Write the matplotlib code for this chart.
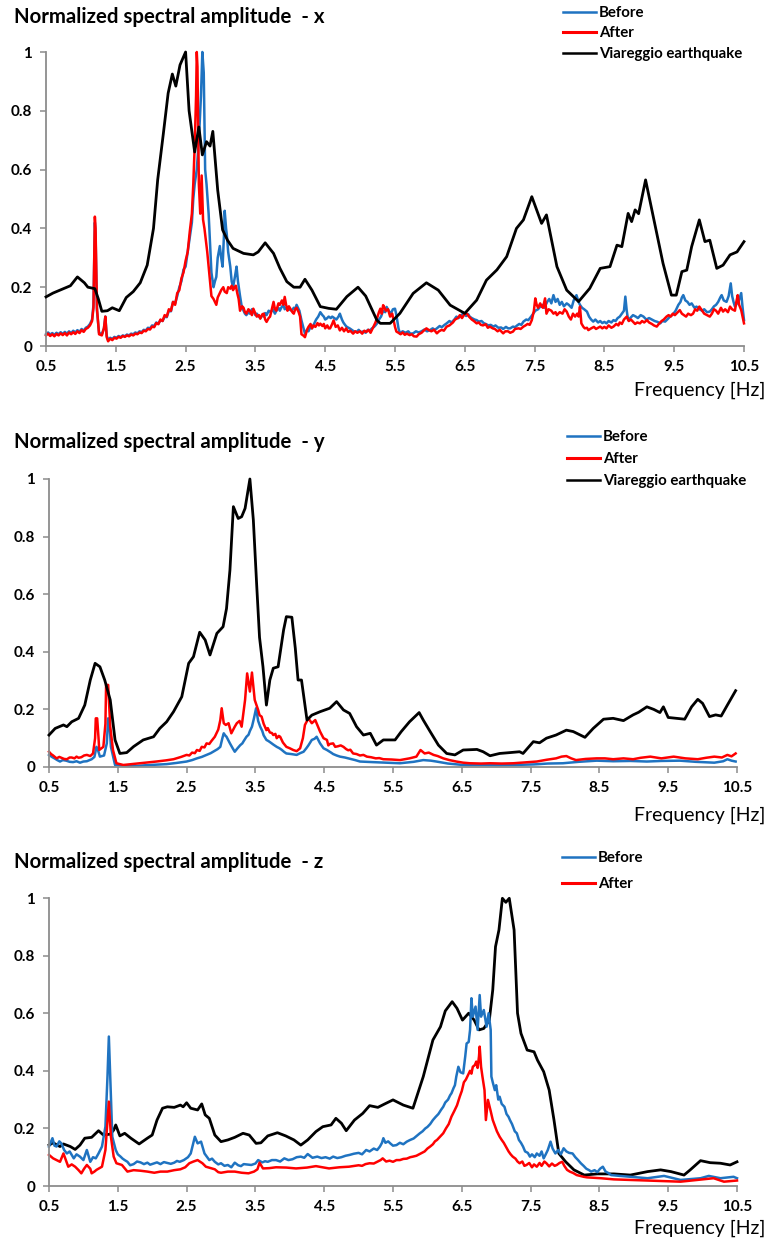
import numpy as np
import matplotlib
matplotlib.use("Agg")
import matplotlib.pyplot as plt
from matplotlib.lines import Line2D

plt.rcParams['font.family'] = ['Lato', 'DejaVu Sans']

# ---- data (frequency [Hz], normalized amplitude) ----
x_ticks = [0.5, 1.5, 2.5, 3.5, 4.5, 5.5, 6.5, 7.5, 8.5, 9.5, 10.5]
y_ticks = [0, 0.2, 0.4, 0.6, 0.8, 1]
y_tick_labels = ['0', '0.2', '0.4', '0.6', '0.8', '1']

# direction x
quake_x = [(0.5, 0.167), (0.6, 0.18), (0.7, 0.19), (0.8, 0.2), (0.85, 0.205), (0.95, 0.235),
           (1.05, 0.215), (1.1, 0.2), (1.2, 0.195), (1.25, 0.16), (1.3, 0.118), (1.38, 0.12),
           (1.45, 0.13), (1.55, 0.12), (1.65, 0.165), (1.75, 0.185), (1.85, 0.215), (1.95, 0.275),
           (2.04, 0.40), (2.1, 0.565), (2.18, 0.72), (2.25, 0.86), (2.31, 0.925), (2.36, 0.884),
           (2.42, 0.956), (2.5, 1.0), (2.55, 0.80), (2.63, 0.66), (2.69, 0.745), (2.74, 0.65),
           (2.8, 0.695), (2.85, 0.68), (2.89, 0.73), (2.96, 0.53), (3.03, 0.395), (3.1, 0.36),
           (3.18, 0.332), (3.33, 0.315), (3.47, 0.31), (3.54, 0.32), (3.64, 0.351), (3.76, 0.315),
           (3.85, 0.265), (3.95, 0.219), (4.05, 0.2), (4.14, 0.2), (4.21, 0.227), (4.31, 0.19),
           (4.43, 0.134), (4.55, 0.128), (4.66, 0.125), (4.81, 0.168), (4.97, 0.2), (5.08, 0.17),
           (5.24, 0.088), (5.29, 0.077), (5.43, 0.077), (5.57, 0.111), (5.76, 0.179), (5.95, 0.215),
           (6.12, 0.19), (6.29, 0.139), (6.5, 0.111), (6.67, 0.156), (6.81, 0.224), (6.96, 0.259),
           (7.1, 0.304), (7.24, 0.40), (7.34, 0.429), (7.46, 0.508), (7.6, 0.417), (7.67, 0.446),
           (7.82, 0.27), (7.96, 0.19), (8.13, 0.151), (8.29, 0.196), (8.44, 0.264), (8.58, 0.27),
           (8.68, 0.343), (8.75, 0.338), (8.84, 0.451), (8.89, 0.423), (8.94, 0.463), (8.99, 0.45),
           (9.09, 0.565), (9.2, 0.44), (9.34, 0.281), (9.46, 0.173), (9.53, 0.173), (9.61, 0.253),
           (9.68, 0.258), (9.75, 0.338), (9.86, 0.429), (9.94, 0.355), (10.01, 0.36), (10.11, 0.264),
           (10.2, 0.275), (10.3, 0.31), (10.4, 0.32), (10.5, 0.355)]

before_x = [(0.5, .04), (.53, .046), (.56, .039), (.59, .044), (.62, .038), (.65, .045), (.68, .04),
            (.71, .047), (.74, .041), (.77, .048), (.8, .042), (.83, .05), (.86, .044), (.89, .052),
            (.92, .046), (.95, .054), (.98, .048), (1.01, .058), (1.04, .052), (1.07, .062),
            (1.1, .066), (1.13, .075), (1.16, .09), (1.18, .14), (1.2, .42), (1.21, .38), (1.23, .12),
            (1.26, .045), (1.3, .04), (1.33, .06), (1.35, .10), (1.37, .035), (1.39, .02), (1.42, .028),
            (1.45, .024), (1.48, .031), (1.51, .028), (1.54, .034), (1.57, .03), (1.6, .036),
            (1.63, .033), (1.66, .039), (1.69, .036), (1.72, .042), (1.75, .04), (1.78, .046),
            (1.81, .043), (1.84, .05), (1.87, .047), (1.9, .055), (1.93, .053), (1.96, .062),
            (1.99, .06), (2.02, .07), (2.05, .068), (2.08, .08), (2.11, .076), (2.14, .088),
            (2.17, .085), (2.2, .1), (2.23, .098), (2.26, .12), (2.29, .118), (2.32, .15), (2.35, .145),
            (2.38, .17), (2.41, .2), (2.44, .22), (2.47, .26), (2.5, .27), (2.53, .32), (2.56, .37),
            (2.59, .42), (2.61, .5), (2.63, .55), (2.66, .6), (2.69, .7), (2.72, .85), (2.74, 1.0),
            (2.76, .93), (2.78, .6), (2.8, .55), (2.83, .45), (2.85, .35), (2.87, .25), (2.9, .2),
            (2.92, .22), (2.94, .235), (2.96, .3), (2.99, .34), (3.01, .3), (3.03, .27), (3.05, .38),
            (3.06, .46), (3.08, .4), (3.09, .38), (3.11, .32), (3.14, .27), (3.16, .22), (3.18, .2),
            (3.21, .24), (3.23, .27), (3.25, .22), (3.28, .17), (3.3, .14), (3.33, .12), (3.35, .11),
            (3.37, .105), (3.4, .115), (3.42, .11), (3.45, .125), (3.47, .12), (3.5, .105), (3.52, .11),
            (3.55, .1), (3.57, .095), (3.6, .105), (3.62, .1), (3.64, .112), (3.66, .105), (3.69, .12),
            (3.72, .115), (3.75, .125), (3.78, .11), (3.8, .12), (3.83, .13), (3.85, .12), (3.87, .13),
            (3.9, .14), (3.92, .125), (3.95, .13), (3.98, .125), (4.02, .12), (4.05, .13), (4.07, .125),
            (4.09, .14), (4.11, .13), (4.13, .12), (4.16, .087), (4.19, .06), (4.21, .042), (4.24, .055),
            (4.26, .05), (4.29, .065), (4.31, .06), (4.34, .075), (4.37, .09), (4.4, .1), (4.43, .115),
            (4.46, .105), (4.48, .1), (4.5, .09), (4.52, .093), (4.55, .1), (4.58, .095), (4.6, .1),
            (4.63, .095), (4.66, .09), (4.69, .1), (4.71, .11), (4.74, .09), (4.76, .08), (4.79, .07),
            (4.81, .065), (4.85, .06), (4.88, .055), (4.91, .05), (4.95, .048), (4.98, .055),
            (5.01, .047), (5.05, .05), (5.08, .045), (5.11, .055), (5.14, .053), (5.17, .06), (5.2, .065),
            (5.22, .07), (5.24, .076), (5.27, .09), (5.3, .1), (5.33, .12), (5.36, .115), (5.38, .133),
            (5.41, .12), (5.44, .11), (5.47, .125), (5.5, .127), (5.52, .105), (5.53, .09), (5.55, .06),
            (5.57, .043), (5.61, .05), (5.65, .045), (5.69, .05), (5.72, .042), (5.76, .043), (5.8, .05),
            (5.84, .046), (5.88, .05), (5.92, .056), (5.96, .05), (6.0, .054), (6.04, .06), (6.07, .055),
            (6.1, .06), (6.14, .068), (6.17, .064), (6.21, .072), (6.24, .077), (6.28, .085), (6.31, .08),
            (6.35, .09), (6.38, .1), (6.41, .095), (6.45, .105), (6.48, .11), (6.52, .102), (6.55, .108),
            (6.57, .1), (6.6, .095), (6.64, .09), (6.67, .088), (6.7, .083), (6.74, .085), (6.77, .078),
            (6.8, .075), (6.84, .07), (6.87, .072), (6.91, .066), (6.94, .07), (6.98, .062), (7.02, .063),
            (7.05, .058), (7.09, .065), (7.12, .06), (7.15, .06), (7.19, .066), (7.22, .064), (7.25, .07),
            (7.28, .075), (7.31, .072), (7.34, .083), (7.38, .09), (7.41, .088), (7.45, .1), (7.48, .11),
            (7.51, .12), (7.55, .125), (7.58, .134), (7.61, .14), (7.64, .13), (7.68, .15), (7.71, .16),
            (7.74, .145), (7.77, .173), (7.8, .15), (7.83, .16), (7.86, .14), (7.89, .15), (7.92, .135),
            (7.96, .145), (7.99, .14), (8.03, .13), (8.06, .155), (8.1, .173), (8.13, .15), (8.15, .14),
            (8.18, .13), (8.21, .125), (8.25, .117), (8.28, .1), (8.31, .09), (8.34, .083), (8.37, .09),
            (8.41, .08), (8.44, .085), (8.47, .078), (8.5, .082), (8.53, .077), (8.56, .085), (8.6, .08),
            (8.63, .088), (8.66, .085), (8.69, .095), (8.72, .1), (8.75, .11), (8.78, .12), (8.8, .168),
            (8.82, .12), (8.84, .088), (8.87, .095), (8.91, .105), (8.95, .1), (8.98, .095), (9.02, .105),
            (9.06, .1), (9.1, .09), (9.14, .095), (9.18, .09), (9.22, .085), (9.26, .082), (9.3, .077),
            (9.33, .085), (9.37, .083), (9.4, .09), (9.44, .1), (9.47, .105), (9.49, .11), (9.52, .12),
            (9.56, .14), (9.59, .15), (9.61, .165), (9.63, .173), (9.66, .155), (9.69, .15), (9.72, .14),
            (9.75, .145), (9.79, .13), (9.82, .134), (9.86, .125), (9.9, .12), (9.93, .125), (9.97, .115),
            (10.01, .117), (10.04, .125), (10.07, .135), (10.1, .14), (10.13, .15), (10.16, .165),
            (10.18, .173), (10.21, .155), (10.25, .15), (10.28, .17), (10.31, .213), (10.33, .17),
            (10.35, .15), (10.37, .134), (10.4, .145), (10.42, .15), (10.44, .165), (10.46, .18),
            (10.48, .13), (10.5, .088)]

after_x = [(0.5, .036), (.53, .042), (.56, .034), (.59, .04), (.62, .033), (.65, .041), (.68, .036),
           (.71, .043), (.74, .037), (.77, .044), (.8, .036), (.83, .046), (.86, .04), (.89, .047),
           (.92, .041), (.95, .05), (.98, .044), (1.01, .054), (1.04, .048), (1.07, .058), (1.1, .062),
           (1.13, .07), (1.16, .085), (1.18, .13), (1.2, .44), (1.21, .40), (1.23, .13), (1.26, .04),
           (1.3, .036), (1.33, .06), (1.35, .10), (1.37, .03), (1.39, .016), (1.42, .025), (1.45, .02),
           (1.48, .028), (1.51, .025), (1.54, .031), (1.57, .028), (1.6, .034), (1.63, .031),
           (1.66, .036), (1.69, .033), (1.72, .039), (1.75, .036), (1.78, .042), (1.81, .04),
           (1.84, .046), (1.87, .044), (1.9, .052), (1.93, .05), (1.96, .058), (1.99, .056),
           (2.02, .066), (2.05, .064), (2.08, .078), (2.11, .074), (2.14, .09), (2.17, .085),
           (2.2, .105), (2.23, .1), (2.26, .125), (2.29, .12), (2.32, .15), (2.35, .14), (2.38, .18),
           (2.41, .19), (2.44, .23), (2.47, .25), (2.5, .29), (2.53, .32), (2.56, .39), (2.59, .45),
           (2.61, .55), (2.63, .68), (2.65, .85), (2.66, 1.0), (2.67, .95), (2.69, .55), (2.71, .45),
           (2.73, .58), (2.75, .43), (2.77, .4), (2.79, .36), (2.81, .32), (2.83, .27), (2.85, .22),
           (2.87, .17), (2.9, .16), (2.92, .15), (2.94, .14), (2.96, .165), (2.99, .18), (3.01, .19),
           (3.04, .2), (3.06, .185), (3.09, .18), (3.11, .2), (3.14, .195), (3.16, .205), (3.18, .19),
           (3.2, .2), (3.22, .205), (3.24, .18), (3.26, .16), (3.28, .12), (3.31, .135), (3.33, .13),
           (3.35, .115), (3.37, .11), (3.4, .125), (3.42, .12), (3.45, .105), (3.47, .127), (3.5, .11),
           (3.52, .1), (3.55, .105), (3.57, .093), (3.6, .108), (3.62, .11), (3.64, .09), (3.66, .082),
           (3.69, .095), (3.71, .1), (3.74, .13), (3.76, .15), (3.78, .125), (3.8, .12), (3.83, .145),
           (3.85, .14), (3.88, .155), (3.9, .14), (3.92, .167), (3.94, .14), (3.96, .12), (3.98, .135),
           (4.0, .127), (4.03, .115), (4.05, .11), (4.07, .125), (4.09, .13), (4.12, .115), (4.14, .1),
           (4.16, .04), (4.19, .035), (4.21, .03), (4.24, .055), (4.26, .065), (4.29, .075), (4.31, .06),
           (4.33, .07), (4.36, .065), (4.39, .078), (4.41, .07), (4.43, .076), (4.46, .068), (4.48, .075),
           (4.5, .06), (4.53, .07), (4.55, .06), (4.57, .06), (4.6, .075), (4.62, .087), (4.65, .065),
           (4.68, .07), (4.71, .053), (4.74, .062), (4.77, .05), (4.8, .06), (4.83, .048), (4.86, .052),
           (4.9, .042), (4.93, .05), (4.96, .045), (5.0, .05), (5.03, .042), (5.06, .052), (5.09, .048),
           (5.12, .055), (5.15, .045), (5.19, .065), (5.22, .08), (5.25, .1), (5.27, .115), (5.29, .127),
           (5.31, .11), (5.33, .139), (5.35, .13), (5.37, .12), (5.4, .125), (5.43, .1), (5.46, .11),
           (5.48, .087), (5.5, .065), (5.52, .049), (5.55, .045), (5.58, .04), (5.61, .046), (5.64, .038),
           (5.67, .042), (5.71, .037), (5.74, .04), (5.77, .033), (5.81, .032), (5.84, .04), (5.88, .045),
           (5.91, .052), (5.95, .06), (5.98, .055), (6.02, .05), (6.06, .055), (6.1, .043), (6.13, .05),
           (6.17, .055), (6.2, .052), (6.24, .066), (6.28, .07), (6.33, .08), (6.36, .09), (6.4, .095),
           (6.43, .105), (6.46, .095), (6.5, .11), (6.53, .11), (6.56, .1), (6.6, .09), (6.63, .085),
           (6.67, .077), (6.7, .08), (6.73, .072), (6.76, .07), (6.8, .074), (6.83, .062), (6.86, .066),
           (6.9, .06), (6.93, .058), (6.97, .05), (7.0, .055), (7.05, .043), (7.08, .05), (7.12, .05),
           (7.15, .045), (7.19, .049), (7.22, .058), (7.27, .06), (7.3, .058), (7.34, .066), (7.37, .07),
           (7.4, .075), (7.43, .072), (7.46, .088), (7.49, .12), (7.51, .162), (7.53, .14), (7.55, .13),
           (7.58, .145), (7.6, .135), (7.62, .13), (7.65, .162), (7.67, .11), (7.7, .125), (7.74, .12),
           (7.77, .11), (7.8, .115), (7.82, .105), (7.86, .115), (7.9, .11), (7.93, .125), (7.96, .117),
           (7.99, .1), (8.02, .09), (8.05, .11), (8.08, .1), (8.11, .11), (8.13, .1), (8.15, .134),
           (8.17, .077), (8.2, .065), (8.22, .06), (8.25, .062), (8.27, .054), (8.31, .06), (8.35, .065),
           (8.38, .058), (8.41, .062), (8.44, .066), (8.47, .06), (8.5, .065), (8.53, .06), (8.56, .07),
           (8.6, .062), (8.63, .066), (8.67, .075), (8.7, .07), (8.72, .08), (8.75, .075), (8.78, .09),
           (8.82, .10), (8.85, .085), (8.88, .09), (8.9, .085), (8.94, .075), (8.97, .08), (9.01, .077),
           (9.04, .085), (9.07, .08), (9.11, .088), (9.14, .08), (9.18, .075), (9.21, .07), (9.25, .066),
           (9.28, .075), (9.32, .085), (9.35, .09), (9.39, .1), (9.42, .105), (9.45, .1), (9.48, .11),
           (9.51, .105), (9.55, .115), (9.58, .122), (9.61, .11), (9.64, .105), (9.67, .1), (9.7, .11),
           (9.74, .105), (9.77, .11), (9.8, .125), (9.83, .12), (9.86, .134), (9.9, .12), (9.93, .11),
           (9.97, .105), (10.01, .1), (10.04, .11), (10.07, .125), (10.1, .12), (10.13, .11),
           (10.17, .13), (10.2, .117), (10.23, .125), (10.27, .115), (10.3, .134), (10.33, .125),
           (10.37, .12), (10.39, .15), (10.41, .173), (10.43, .14), (10.46, .122), (10.48, .1),
           (10.5, .077)]

# direction y
quake_y = [(0.5, 0.111), (0.59, 0.134), (0.71, 0.146), (0.76, 0.14), (0.83, 0.157), (0.93, 0.169),
           (1.02, 0.215), (1.1, 0.302), (1.17, 0.36), (1.24, 0.348), (1.31, 0.302), (1.39, 0.233),
           (1.46, 0.094), (1.53, 0.047), (1.63, 0.05), (1.73, 0.071), (1.87, 0.094), (2.02, 0.105),
           (2.11, 0.134), (2.21, 0.157), (2.31, 0.192), (2.43, 0.244), (2.53, 0.36), (2.6, 0.383),
           (2.69, 0.468), (2.77, 0.441), (2.84, 0.389), (2.94, 0.464), (3.03, 0.487), (3.08, 0.55),
           (3.13, 0.684), (3.18, 0.904), (3.25, 0.863), (3.3, 0.869), (3.35, 0.898), (3.42, 1.0),
           (3.47, 0.858), (3.52, 0.626), (3.56, 0.45), (3.61, 0.348), (3.66, 0.215), (3.71, 0.302),
           (3.76, 0.343), (3.83, 0.348), (3.91, 0.476), (3.95, 0.522), (4.03, 0.52), (4.08, 0.412),
           (4.12, 0.302), (4.17, 0.302), (4.25, 0.163), (4.32, 0.18), (4.44, 0.192), (4.58, 0.204),
           (4.68, 0.227), (4.78, 0.198), (4.87, 0.186), (4.97, 0.14), (5.07, 0.111), (5.17, 0.117),
           (5.26, 0.076), (5.36, 0.094), (5.46, 0.094), (5.53, 0.094), (5.62, 0.123), (5.74, 0.157),
           (5.88, 0.189), (5.94, 0.163), (6.04, 0.123), (6.16, 0.076), (6.28, 0.047), (6.4, 0.042),
           (6.52, 0.059), (6.72, 0.061), (6.81, 0.053), (6.91, 0.039), (7.05, 0.047), (7.2, 0.05),
           (7.34, 0.053), (7.39, 0.047), (7.54, 0.088), (7.63, 0.084), (7.73, 0.1), (7.87, 0.111),
           (8.02, 0.128), (8.12, 0.123), (8.29, 0.103), (8.41, 0.134), (8.56, 0.166), (8.7, 0.169),
           (8.85, 0.161), (8.99, 0.181), (9.07, 0.19), (9.19, 0.209), (9.29, 0.2), (9.38, 0.189),
           (9.43, 0.209), (9.5, 0.172), (9.62, 0.169), (9.74, 0.166), (9.84, 0.209), (9.93, 0.235),
           (10.0, 0.221), (10.1, 0.175), (10.19, 0.181), (10.27, 0.177), (10.36, 0.215),
           (10.48, 0.265)]

before_y = [(0.5, 0.042), (0.55, 0.034), (0.58, 0.03), (0.62, 0.024), (0.66, 0.019), (0.7, 0.024),
            (0.75, 0.022), (0.8, 0.018), (0.85, 0.017), (0.9, 0.02), (0.95, 0.015), (1.0, 0.019),
            (1.05, 0.02), (1.09, 0.024), (1.12, 0.027), (1.16, 0.035), (1.19, 0.07), (1.21, 0.06),
            (1.24, 0.036), (1.3, 0.04), (1.34, 0.082), (1.36, 0.169), (1.38, 0.15), (1.4, 0.07),
            (1.46, 0.007), (1.6, 0.004), (1.73, 0.003), (1.9, 0.006), (2.05, 0.008), (2.21, 0.01),
            (2.35, 0.014), (2.5, 0.019), (2.58, 0.024), (2.65, 0.03), (2.72, 0.035), (2.79, 0.042),
            (2.85, 0.048), (2.9, 0.055), (2.95, 0.062), (2.99, 0.07), (3.02, 0.1), (3.04, 0.117),
            (3.06, 0.11), (3.08, 0.105), (3.13, 0.082), (3.17, 0.065), (3.2, 0.053), (3.24, 0.065),
            (3.28, 0.076), (3.31, 0.082), (3.33, 0.09), (3.37, 0.105), (3.4, 0.112), (3.42, 0.125),
            (3.45, 0.14), (3.48, 0.17), (3.51, 0.204), (3.54, 0.16), (3.57, 0.14), (3.6, 0.125),
            (3.62, 0.11), (3.66, 0.094), (3.69, 0.09), (3.72, 0.085), (3.76, 0.078), (3.81, 0.07),
            (3.85, 0.065), (3.88, 0.06), (3.92, 0.052), (3.95, 0.047), (4.02, 0.045), (4.1, 0.042),
            (4.15, 0.048), (4.2, 0.053), (4.24, 0.065), (4.27, 0.075), (4.32, 0.094), (4.36, 0.098),
            (4.39, 0.105), (4.44, 0.082), (4.49, 0.065), (4.54, 0.059), (4.6, 0.05), (4.63, 0.045),
            (4.68, 0.04), (4.73, 0.036), (4.8, 0.033), (4.85, 0.03), (4.95, 0.024), (5.02, 0.019),
            (5.2, 0.017), (5.4, 0.015), (5.6, 0.013), (5.8, 0.018), (5.94, 0.024), (6.05, 0.022),
            (6.13, 0.019), (6.3, 0.012), (6.52, 0.007), (6.8, 0.007), (7.05, 0.006), (7.25, 0.007),
            (7.55, 0.009), (7.75, 0.012), (7.97, 0.013), (8.2, 0.018), (8.46, 0.022), (8.7, 0.02),
            (8.95, 0.021), (9.19, 0.019), (9.4, 0.021), (9.67, 0.022), (9.9, 0.018), (10.17, 0.015),
            (10.3, 0.02), (10.36, 0.027), (10.42, 0.022), (10.48, 0.019)]

after_y = [(0.5, 0.053), (0.53, 0.045), (0.56, 0.04), (0.61, 0.03), (0.65, 0.035), (0.68, 0.032),
           (0.72, 0.028), (0.76, 0.027), (0.8, 0.033), (0.83, 0.033), (0.87, 0.03), (0.9, 0.036),
           (0.93, 0.032), (0.97, 0.034), (1.01, 0.04), (1.05, 0.042), (1.1, 0.038), (1.14, 0.047),
           (1.17, 0.1), (1.18, 0.169), (1.2, 0.169), (1.22, 0.1), (1.23, 0.059), (1.29, 0.07),
           (1.32, 0.15), (1.33, 0.285), (1.36, 0.285), (1.39, 0.14), (1.43, 0.059), (1.48, 0.013),
           (1.58, 0.007), (1.7, 0.01), (1.82, 0.013), (1.95, 0.016), (2.06, 0.019), (2.2, 0.023),
           (2.31, 0.027), (2.42, 0.035), (2.5, 0.042), (2.54, 0.04), (2.58, 0.05), (2.62, 0.048),
           (2.65, 0.059), (2.69, 0.056), (2.72, 0.07), (2.76, 0.068), (2.79, 0.082), (2.83, 0.08),
           (2.86, 0.09), (2.91, 0.105), (2.96, 0.13), (2.99, 0.163), (3.01, 0.204), (3.04, 0.152),
           (3.07, 0.146), (3.11, 0.152), (3.15, 0.117), (3.2, 0.14), (3.23, 0.152), (3.27, 0.16),
           (3.3, 0.14), (3.35, 0.233), (3.38, 0.325), (3.42, 0.262), (3.45, 0.328), (3.49, 0.233),
           (3.54, 0.198), (3.56, 0.18), (3.59, 0.175), (3.62, 0.15), (3.66, 0.128), (3.68, 0.135),
           (3.71, 0.12), (3.74, 0.118), (3.76, 0.111), (3.79, 0.115), (3.81, 0.1), (3.84, 0.108),
           (3.86, 0.105), (3.9, 0.085), (3.95, 0.07), (4.0, 0.065), (4.05, 0.059), (4.1, 0.055),
           (4.15, 0.065), (4.19, 0.1), (4.22, 0.146), (4.27, 0.169), (4.32, 0.152), (4.37, 0.163),
           (4.41, 0.14), (4.44, 0.123), (4.49, 0.1), (4.54, 0.094), (4.56, 0.075), (4.58, 0.08),
           (4.63, 0.082), (4.66, 0.07), (4.7, 0.072), (4.74, 0.075), (4.78, 0.07), (4.82, 0.062),
           (4.85, 0.058), (4.88, 0.06), (4.92, 0.047), (4.97, 0.045), (5.02, 0.04), (5.07, 0.042),
           (5.12, 0.036), (5.18, 0.034), (5.25, 0.03), (5.3, 0.031), (5.36, 0.027), (5.48, 0.026),
           (5.6, 0.024), (5.74, 0.03), (5.84, 0.036), (5.9, 0.059), (5.96, 0.047), (6.02, 0.05),
           (6.09, 0.042), (6.15, 0.038), (6.23, 0.03), (6.32, 0.024), (6.42, 0.019), (6.52, 0.015),
           (6.62, 0.013), (6.78, 0.012), (6.91, 0.013), (7.08, 0.012), (7.25, 0.013), (7.42, 0.016),
           (7.59, 0.019), (7.73, 0.025), (7.87, 0.03), (7.95, 0.036), (8.02, 0.038), (8.09, 0.03),
           (8.16, 0.024), (8.3, 0.028), (8.46, 0.03), (8.58, 0.03), (8.7, 0.027), (8.85, 0.03),
           (8.99, 0.027), (9.1, 0.032), (9.24, 0.036), (9.4, 0.03), (9.58, 0.036), (9.75, 0.03),
           (9.93, 0.027), (10.05, 0.032), (10.17, 0.036), (10.28, 0.033), (10.36, 0.042),
           (10.42, 0.037), (10.48, 0.047)]

# direction z
quake_z = [(0.5, 0.142), (0.56, 0.15), (0.66, 0.137), (0.71, 0.146), (0.81, 0.137), (0.88, 0.127),
           (0.95, 0.142), (1.02, 0.166), (1.12, 0.169), (1.22, 0.192), (1.29, 0.177), (1.39, 0.18),
           (1.44, 0.194), (1.47, 0.212), (1.53, 0.174), (1.6, 0.183), (1.69, 0.166), (1.81, 0.146),
           (1.93, 0.166), (2.0, 0.177), (2.07, 0.229), (2.15, 0.27), (2.22, 0.275), (2.32, 0.273),
           (2.41, 0.281), (2.45, 0.275), (2.5, 0.289), (2.56, 0.27), (2.66, 0.264), (2.72, 0.285),
           (2.77, 0.247), (2.83, 0.235), (2.91, 0.177), (3.0, 0.154), (3.1, 0.16), (3.2, 0.169),
           (3.32, 0.183), (3.41, 0.177), (3.51, 0.148), (3.58, 0.15), (3.68, 0.174), (3.82, 0.185),
           (3.94, 0.174), (4.06, 0.16), (4.16, 0.142), (4.26, 0.16), (4.38, 0.189), (4.48, 0.206),
           (4.6, 0.212), (4.67, 0.235), (4.75, 0.218), (4.82, 0.192), (4.94, 0.229), (5.06, 0.252),
           (5.16, 0.279), (5.28, 0.273), (5.38, 0.285), (5.5, 0.299), (5.65, 0.281), (5.79, 0.27),
           (5.94, 0.38), (6.08, 0.507), (6.19, 0.553), (6.26, 0.608), (6.36, 0.64), (6.43, 0.617),
           (6.51, 0.576), (6.6, 0.6), (6.68, 0.576), (6.75, 0.542), (6.82, 0.547), (6.9, 0.576),
           (6.95, 0.681), (6.99, 0.831), (7.04, 0.889), (7.09, 0.999), (7.14, 0.985), (7.19, 0.999),
           (7.26, 0.889), (7.31, 0.6), (7.36, 0.53), (7.45, 0.472), (7.55, 0.466), (7.6, 0.437),
           (7.69, 0.397), (7.77, 0.333), (7.84, 0.229), (7.91, 0.113), (8.01, 0.084), (8.13, 0.056),
           (8.28, 0.038), (8.47, 0.042), (8.71, 0.042), (8.95, 0.038), (9.2, 0.05), (9.39, 0.056),
           (9.54, 0.05), (9.73, 0.038), (9.82, 0.056), (9.97, 0.088), (10.11, 0.081), (10.26, 0.079),
           (10.4, 0.073), (10.5, 0.084)]

before_z = [(0.5, 0.137), (0.55, 0.166), (0.58, 0.14), (0.61, 0.137), (0.65, 0.155), (0.68, 0.148),
            (0.72, 0.125), (0.76, 0.113), (0.8, 0.12), (0.86, 0.096), (0.9, 0.11), (0.95, 0.102),
            (1.0, 0.09), (1.05, 0.125), (1.08, 0.1), (1.1, 0.084), (1.14, 0.1), (1.18, 0.096),
            (1.22, 0.113), (1.27, 0.137), (1.32, 0.206), (1.35, 0.38), (1.37, 0.519), (1.39, 0.38),
            (1.42, 0.171), (1.47, 0.125), (1.5, 0.11), (1.54, 0.102), (1.57, 0.095), (1.6, 0.09),
            (1.64, 0.084), (1.68, 0.072), (1.73, 0.076), (1.78, 0.085), (1.83, 0.082), (1.88, 0.076),
            (1.93, 0.081), (1.97, 0.074), (2.02, 0.078), (2.07, 0.082), (2.12, 0.076), (2.17, 0.083),
            (2.22, 0.08), (2.27, 0.077), (2.32, 0.081), (2.36, 0.087), (2.4, 0.084), (2.46, 0.09),
            (2.52, 0.1), (2.56, 0.113), (2.62, 0.171), (2.66, 0.148), (2.71, 0.154), (2.76, 0.113),
            (2.8, 0.1), (2.83, 0.09), (2.87, 0.095), (2.91, 0.084), (2.96, 0.075), (3.0, 0.079),
            (3.05, 0.07), (3.1, 0.073), (3.15, 0.065), (3.2, 0.081), (3.25, 0.072), (3.29, 0.069),
            (3.33, 0.076), (3.37, 0.075), (3.44, 0.073), (3.5, 0.078), (3.54, 0.09), (3.6, 0.082),
            (3.64, 0.086), (3.68, 0.084), (3.74, 0.09), (3.8, 0.09), (3.86, 0.085), (3.92, 0.096),
            (3.98, 0.09), (4.04, 0.093), (4.1, 0.1), (4.16, 0.102), (4.21, 0.098), (4.26, 0.111),
            (4.33, 0.098), (4.4, 0.102), (4.46, 0.097), (4.52, 0.1), (4.58, 0.095), (4.63, 0.102),
            (4.69, 0.097), (4.75, 0.1), (4.81, 0.105), (4.87, 0.108), (4.93, 0.112), (5.0, 0.115),
            (5.05, 0.11), (5.11, 0.125), (5.16, 0.12), (5.22, 0.13), (5.27, 0.125), (5.31, 0.137),
            (5.34, 0.15), (5.36, 0.166), (5.39, 0.15), (5.43, 0.155), (5.46, 0.148), (5.5, 0.14),
            (5.55, 0.142), (5.6, 0.15), (5.65, 0.145), (5.7, 0.154), (5.75, 0.16), (5.8, 0.165),
            (5.85, 0.175), (5.89, 0.183), (5.93, 0.19), (5.97, 0.2), (6.0, 0.205), (6.04, 0.215),
            (6.08, 0.229), (6.12, 0.24), (6.16, 0.25), (6.2, 0.265), (6.23, 0.275), (6.26, 0.29),
            (6.3, 0.3), (6.33, 0.315), (6.35, 0.322), (6.38, 0.34), (6.4, 0.35), (6.42, 0.38),
            (6.45, 0.414), (6.48, 0.395), (6.52, 0.391), (6.55, 0.45), (6.57, 0.495), (6.6, 0.5),
            (6.62, 0.542), (6.64, 0.652), (6.66, 0.588), (6.7, 0.623), (6.73, 0.542), (6.76, 0.663),
            (6.78, 0.588), (6.82, 0.611), (6.86, 0.553), (6.89, 0.6), (6.92, 0.542), (6.93, 0.38),
            (6.95, 0.36), (6.98, 0.333), (7.0, 0.35), (7.03, 0.3), (7.05, 0.31), (7.08, 0.285),
            (7.12, 0.275), (7.15, 0.25), (7.18, 0.24), (7.2, 0.229), (7.23, 0.215), (7.27, 0.19),
            (7.3, 0.183), (7.33, 0.16), (7.36, 0.15), (7.39, 0.137), (7.42, 0.12), (7.46, 0.115),
            (7.49, 0.102), (7.52, 0.11), (7.56, 0.1), (7.59, 0.113), (7.63, 0.105), (7.66, 0.12),
            (7.69, 0.096), (7.72, 0.11), (7.75, 0.125), (7.79, 0.154), (7.82, 0.13), (7.86, 0.113),
            (7.9, 0.125), (7.94, 0.11), (7.98, 0.131), (8.02, 0.12), (8.06, 0.115), (8.11, 0.113),
            (8.15, 0.1), (8.19, 0.09), (8.23, 0.079), (8.27, 0.07), (8.31, 0.06), (8.35, 0.055),
            (8.38, 0.05), (8.43, 0.055), (8.47, 0.048), (8.51, 0.06), (8.55, 0.067), (8.59, 0.05),
            (8.63, 0.045), (8.67, 0.038), (8.8, 0.035), (8.95, 0.032), (9.2, 0.027), (9.44, 0.035),
            (9.68, 0.021), (9.97, 0.027), (10.09, 0.035), (10.26, 0.027), (10.45, 0.032),
            (10.5, 0.027)]

after_z = [(0.5, 0.108), (0.56, 0.096), (0.61, 0.09), (0.66, 0.084), (0.71, 0.113), (0.78, 0.067),
           (0.83, 0.075), (0.88, 0.067), (0.93, 0.055), (0.97, 0.044), (1.01, 0.06), (1.05, 0.073),
           (1.1, 0.06), (1.12, 0.044), (1.16, 0.05), (1.19, 0.056), (1.27, 0.067), (1.32, 0.125),
           (1.35, 0.229), (1.37, 0.293), (1.4, 0.171), (1.44, 0.102), (1.48, 0.079), (1.56, 0.073),
           (1.64, 0.05), (1.73, 0.055), (1.83, 0.053), (1.93, 0.05), (2.03, 0.046), (2.12, 0.05),
           (2.22, 0.05), (2.32, 0.055), (2.41, 0.058), (2.48, 0.065), (2.54, 0.079), (2.6, 0.085),
           (2.66, 0.09), (2.73, 0.079), (2.78, 0.067), (2.85, 0.062), (2.91, 0.058), (2.96, 0.048),
           (3.0, 0.046), (3.1, 0.05), (3.2, 0.05), (3.3, 0.046), (3.4, 0.044), (3.48, 0.05),
           (3.53, 0.058), (3.56, 0.081), (3.61, 0.061), (3.7, 0.062), (3.8, 0.065), (3.95, 0.064),
           (4.09, 0.061), (4.25, 0.064), (4.38, 0.069), (4.57, 0.061), (4.72, 0.065), (4.86, 0.067),
           (5.0, 0.072), (5.05, 0.07), (5.1, 0.076), (5.16, 0.079), (5.22, 0.078), (5.28, 0.085),
           (5.32, 0.09), (5.35, 0.096), (5.4, 0.085), (5.45, 0.088), (5.5, 0.084), (5.55, 0.09),
           (5.6, 0.09), (5.65, 0.094), (5.7, 0.095), (5.75, 0.1), (5.79, 0.102), (5.84, 0.105),
           (5.88, 0.11), (5.92, 0.115), (5.96, 0.12), (6.0, 0.13), (6.04, 0.137), (6.08, 0.145),
           (6.11, 0.155), (6.14, 0.16), (6.18, 0.17), (6.23, 0.183), (6.27, 0.2), (6.31, 0.215),
           (6.35, 0.241), (6.39, 0.26), (6.43, 0.28), (6.47, 0.31), (6.5, 0.33), (6.53, 0.36),
           (6.56, 0.37), (6.59, 0.385), (6.62, 0.4), (6.64, 0.39), (6.66, 0.414), (6.69, 0.42),
           (6.71, 0.432), (6.73, 0.41), (6.75, 0.45), (6.76, 0.484), (6.78, 0.414), (6.8, 0.38),
           (6.83, 0.333), (6.85, 0.229), (6.88, 0.299), (6.9, 0.28), (6.92, 0.26), (6.95, 0.229),
           (6.98, 0.21), (7.01, 0.19), (7.05, 0.171), (7.08, 0.16), (7.11, 0.15), (7.14, 0.137),
           (7.18, 0.12), (7.21, 0.11), (7.24, 0.102), (7.28, 0.095), (7.31, 0.085), (7.34, 0.079),
           (7.38, 0.085), (7.41, 0.07), (7.44, 0.073), (7.48, 0.08), (7.52, 0.065), (7.55, 0.075),
           (7.59, 0.067), (7.63, 0.08), (7.66, 0.07), (7.7, 0.085), (7.73, 0.079), (7.77, 0.068),
           (7.81, 0.078), (7.85, 0.07), (7.88, 0.073), (7.92, 0.08), (7.96, 0.084), (7.99, 0.07),
           (8.03, 0.056), (8.07, 0.05), (8.12, 0.045), (8.17, 0.038), (8.22, 0.035), (8.27, 0.032),
           (8.32, 0.03), (8.52, 0.027), (8.71, 0.023), (9.2, 0.019), (9.68, 0.015), (9.92, 0.021),
           (10.16, 0.027), (10.31, 0.015), (10.5, 0.019)]

BLUE = '#1f73c1'
RED = '#ff0000'

# axes boxes in figure fractions (left, bottom, width, height)
fig = plt.figure(figsize=(7.67, 12.43), dpi=100)
W, H = 767.0, 1243.0
boxes = [(46 / W, 1 - 346 / H, 698 / W, 294 / H),
         (49 / W, 1 - 767 / H, 688 / W, 288 / H),
         (49 / W, 1 - 1186 / H, 688 / W, 288 / H)]
panels = [('x', before_x, after_x, quake_x),
          ('y', before_y, after_y, quake_y),
          ('z', before_z, after_z, quake_z)]
title_y = [17, 442, 862]
freq_y = [390, 815, 1228]
legend_pos = [(563, 6), (567, 430), (562, 851)]
legend_space = [0.43, 0.53, 0.8]

for i, (comp, before, after, quake) in enumerate(panels):
    ax = fig.add_axes(boxes[i])
    fb, ab = np.array(before).T
    fa, aa = np.array(after).T
    fq, aq = np.array(quake).T
    # in the z panel the earthquake spectrum sits behind the measurements
    ax.plot(fq, aq, color='black', lw=2.0, clip_on=False, zorder=3 if comp != 'z' else 1)
    ax.plot(fb, ab, color=BLUE, lw=1.8, clip_on=False, zorder=2)
    ax.plot(fa, aa, color=RED, lw=1.8, clip_on=False, zorder=2)

    handles = [Line2D([], [], color=BLUE, lw=1.8), Line2D([], [], color=RED, lw=2.2)]
    labels = ['Before', 'After']
    if comp != 'z':
        handles.append(Line2D([], [], color='black', lw=1.8))
        labels.append('Viareggio earthquake')

    ax.set_xlim(0.5, 10.5)
    ax.set_ylim(0, 1)
    ax.set_xticks(x_ticks)
    ax.set_xticklabels([f'{t:g}' for t in x_ticks], fontweight='bold', fontsize=11)
    ax.set_yticks(y_ticks)
    ax.set_yticklabels(y_tick_labels, fontweight='bold', fontsize=11)
    for s in ['top', 'right']:
        ax.spines[s].set_visible(False)
    for s in ['left', 'bottom']:
        ax.spines[s].set_color('#8c8c8c')
        ax.spines[s].set_linewidth(1.3)
    ax.tick_params(direction='out', length=4, width=1.1, color='#8c8c8c', pad=6)

    fig.text(14 / W, 1 - title_y[i] / H, f'Normalized spectral amplitude  - {comp}',
             fontsize=14.7, fontweight='bold', va='center', ha='left')
    fig.text(765 / W, 1 - freq_y[i] / H, 'Frequency [Hz]', fontsize=14,
             va='center', ha='right')
    lx, ly = legend_pos[i]
    fig.legend(handles, labels, loc='upper left', bbox_to_anchor=(lx / W, 1 - ly / H),
               frameon=False, borderpad=0, borderaxespad=0, handlelength=2.2,
               handletextpad=0.2, labelspacing=legend_space[i],
               prop={'weight': 'bold', 'size': 10.8})

fig.savefig('out.png', dpi=100)
